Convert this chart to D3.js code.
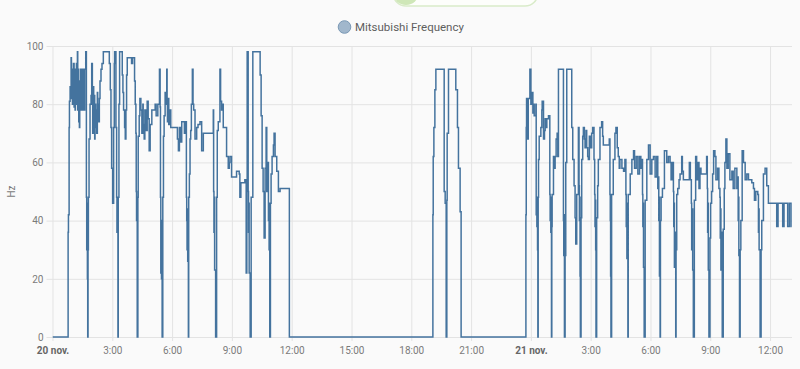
<!DOCTYPE html>
<html>
<head>
<meta charset="utf-8">
<script src="https://cdn.jsdelivr.net/npm/d3@7"></script>
<style>
  body { margin: 0; background: #fafafa; font-family: Roboto, "Noto Sans", sans-serif; }
  svg { display: block; }
  .axis text { fill: #7a7a7a; font-size: 10px; font-family: Roboto, sans-serif; }
  .axis line { stroke: #e3e3e3; }
  .axis path { display: none; }
</style>
</head>
<body>
<svg id="chart"></svg>
<script>
// time in minutes since 20 nov. 00:00, values in Hz
var blockAMinutes = [0,47,48,50,51,53,56,57,59,60,63,65,66,68,69,71,72,75,76,78,79,81,82,84,85,87,88,90,92,95,97,100,102,103,104,105,106,
  107,108,110,113,116,118,120,121,123,124,125,127,128,130,131,133,135,136,138,141,143,146,149,153,171,174,176,178,181,184,186,187,191,193,194,195,197,
  198,200,202,210,212,214,217,219,221,223,225,238,241,247,249,251,252,253,254,255,
  257,258,261,263,266,269,272,273,276,278,281,285,288,291,294,299,309,312,317,322,324,325,326,327,328,330,
  332,334,336,339,341,344,345,346,348,350,353,356,376,379,382,386,389,397,400,403,404,405,406,407,409,
  410,412,414,416,418,421,423,425,429,434,438,444,449,454,484,485,486,487,488,491,
  494,496,499,504,506,509,511,514,524,529,532,534,539,554,562,564,567,579,583,585,586,589,590,591,592,595,
  598,603,625,628,631,634,637,640,643,645,648,650,651,652,654,656,658,661,665,667,670,675,680,685,713];
var blockAHz = [0,36,42,72,81,86,96,82,92,80,94,79,90,78,92,80,94,98,78,92,74,72,88,78,92,78,92,78,92,78,92,98,48,30,46,20,0,
  30,48,68,80,83,94,80,70,86,74,83,68,80,72,78,70,84,80,74,82,88,92,94,98,94,85,72,58,46,72,94,98,72,48,36,46,0,
  48,80,98,90,84,78,72,68,78,90,96,94,96,88,80,70,50,40,48,0,
  48,69,76,82,78,70,80,73,68,78,71,81,75,64,73,78,80,76,80,92,79,48,22,40,20,0,
  48,69,76,84,80,92,80,74,82,73,78,72,68,64,72,67,74,70,74,48,40,30,44,26,0,
  48,56,68,71,80,92,80,78,68,72,73,74,64,70,78,50,36,48,23,0,
  48,71,74,92,81,78,80,72,62,58,60,62,55,57,56,48,53,54,22,50,98,50,36,46,22,0,
  48,98,90,76,58,50,34,58,72,50,60,40,46,30,0,46,56,62,66,70,62,57,50,51,0];

var blockBMinutes = [1145,1146,1148,1151,1154,1179,1182,1185,1187,1188,1192,1214,1219,1222,1227,1230];
var blockBHz = [42,62,72,85,92,50,46,0,47,70,92,85,72,58,43,0];

var blockCMinutes = [1425,1426,1427,1429,1432,1437,1440,1443,1446,1447,1450,1455,1456,1457,1458,1459,1460,1461,
  1462,1463,1465,1470,1473,1474,1478,1481,1483,1486,1488,1493,1497,1498,1499,1500,1501,1502,
  1503,1504,1508,1511,1513,1516,1519,1521,1523,1538,1539,1540,1541,
  1543,1545,1548,1563,1566,1570,1573,1575,1578,1583,1585,1586,1587,1588,1589,
  1591,1593,1596,1598,1601,1603,1606,1608,1611,1613,1616,1620,1623,1626,1630,1632,1633,1634,1635,1636,
  1638,1641,1643,1648,1653,1656,1658,1676,1678,1679,1680,1681,
  1683,1688,1693,1696,1700,1703,1706,1708,1714,1719,1723,1726,1727,1728,1729,1730,1732,
  1733,1739,1744,1749,1752,1757,1762,1767,1771,1774,1776,1777,1778,1779,1781,
  1784,1789,1794,1799,1804,1809,1814,1819,1822,1824,1825,1826,1827,1828,1829,
  1830,1832,1836,1842,1849,1854,1859,1862,1866,1869,1870,1871,1872,1874,1876,
  1877,1879,1882,1886,1889,1894,1896,1899,1917,1920,1923,1924,1926,1927,1929,
  1932,1936,1939,1942,1946,1949,1952,1969,1971,1972,1973,1974,1976,
  1979,1981,1984,1987,1990,1994,1997,2002,2006,2009,2010,2011,2012,2014,2016,
  2019,2022,2024,2027,2030,2034,2039,2045,2049,2054,2060,2063,2064,2065,2066,2068,
  2070,2072,2076,2080,2085,2090,2095,2105,2110,2113,2117,2123,2125,2126,2127,2130,
  2133,2135,2140,2145,2150,2155,2180,2184,2198,2202,2213,2218,2223,2225];
var blockCHz = [42,72,82,68,82,92,80,84,77,80,76,80,42,48,38,46,30,0,
  48,61,69,72,78,81,68,71,75,72,75,76,49,40,48,36,44,0,
  38,49,62,58,62,68,70,62,92,40,28,42,0,
  28,60,92,72,61,52,41,32,49,72,52,40,48,21,0,
  41,61,69,72,68,65,71,65,62,61,69,65,70,72,61,49,38,47,30,0,
  41,52,61,72,74,69,66,68,49,40,21,0,
  49,61,70,72,65,62,58,61,58,57,61,49,38,46,27,40,0,
  49,56,61,64,58,62,56,62,58,61,49,38,46,24,0,
  47,61,66,56,61,62,55,62,51,55,40,48,21,35,0,
  40,48,51,64,60,62,60,54,60,50,38,46,24,36,0,
  30,49,51,54,56,62,57,54,60,54,46,30,44,23,0,
  47,62,54,60,51,58,56,62,51,36,46,23,0,
  34,46,50,56,64,62,54,58,51,48,34,44,23,36,0,
  37,51,60,68,58,63,54,57,51,58,51,55,40,48,28,0,
  30,40,64,60,54,56,54,53,51,47,50,49,36,44,30,0,
  30,40,56,58,52,46,38,46,38,46,38,46,38,38];

var yTicks = [0, 20, 40, 60, 80, 100];
var endMinute = 2226;
var seriesName = "Mitsubishi Frequency";

function drawChart() {
  var width = 800, height = 369;
  var plotLeft = 52.5, plotRight = 792, plotTop = 46, plotBottom = 337;

  var start = new Date(2023, 10, 20, 0, 0);
  function at(m) { return new Date(start.getTime() + m * 60000); }

  var points = [];
  [[blockAMinutes, blockAHz], [blockBMinutes, blockBHz], [blockCMinutes, blockCHz]].forEach(function (b) {
    b[0].forEach(function (m, i) { points.push({ t: at(m), v: b[1][i] }); });
  });

  var x = d3.scaleTime()
    .domain([start, at(endMinute)])
    .range([plotLeft, plotRight]);

  var y = d3.scaleLinear()
    .domain([0, 100])
    .range([plotBottom, plotTop]);

  var svg = d3.select("#chart")
    .attr("width", width)
    .attr("height", height);

  // leftover toggle from the card above
  svg.append("rect")
    .attr("x", 393).attr("y", -22).attr("width", 145).attr("height", 28).attr("rx", 13)
    .attr("fill", "#fdfefb").attr("stroke", "#d9ebc9").attr("stroke-width", 1.5);
  svg.append("circle")
    .attr("cx", 406).attr("cy", -8).attr("r", 13)
    .attr("fill", "#cfe7b8");

  // legend
  svg.append("circle")
    .attr("cx", 344.5).attr("cy", 27).attr("r", 6.3)
    .attr("fill", "#a1b7cc").attr("stroke", "#7c9ab6").attr("stroke-width", 1);
  svg.append("text")
    .attr("x", 355).attr("y", 27).attr("dy", "0.35em")
    .style("font-size", "11.5px").style("fill", "#5e5e5e")
    .text(seriesName);

  var fmtHour = d3.timeFormat("%-H:%M");
  var xAxis = d3.axisBottom(x)
    .ticks(d3.timeHour.every(3))
    .tickSize(-(plotBottom - plotTop))
    .tickPadding(10)
    .tickFormat(function (d) { return d.getHours() === 0 ? d.getDate() + " nov." : fmtHour(d); });

  var yAxis = d3.axisLeft(y)
    .tickValues(yTicks)
    .tickSize(-(plotRight - plotLeft))
    .tickPadding(9);

  var gx = svg.append("g")
    .attr("class", "axis")
    .attr("transform", "translate(0," + plotBottom + ")")
    .call(xAxis);
  gx.selectAll("line").attr("y2", 4).attr("y1", -(plotBottom - plotTop));
  gx.selectAll("text")
    .filter(function (d) { return d.getHours() === 0; })
    .style("font-weight", "bold").style("fill", "#666");

  var gy = svg.append("g")
    .attr("class", "axis")
    .attr("transform", "translate(" + plotLeft + ",0)")
    .call(yAxis);
  gy.selectAll("line").attr("x1", -6);

  svg.append("text")
    .attr("transform", "translate(15," + ((plotTop + plotBottom) / 2) + ") rotate(-90)")
    .attr("text-anchor", "middle")
    .style("font-size", "10px").style("fill", "#7a7a7a")
    .text("Hz");

  svg.append("clipPath").attr("id", "plot")
    .append("rect").attr("x", plotLeft).attr("y", plotTop - 2)
    .attr("width", plotRight - plotLeft).attr("height", plotBottom - plotTop + 4);

  var line = d3.line()
    .curve(d3.curveStepAfter)
    .x(function (d) { return x(d.t); })
    .y(function (d) { return y(d.v); });

  svg.append("path")
    .datum(points)
    .attr("clip-path", "url(#plot)")
    .attr("fill", "none")
    .attr("stroke", "#44739e")
    .attr("stroke-width", 1.5)
    .attr("d", line);
}

drawChart();
</script>
</body>
</html>
